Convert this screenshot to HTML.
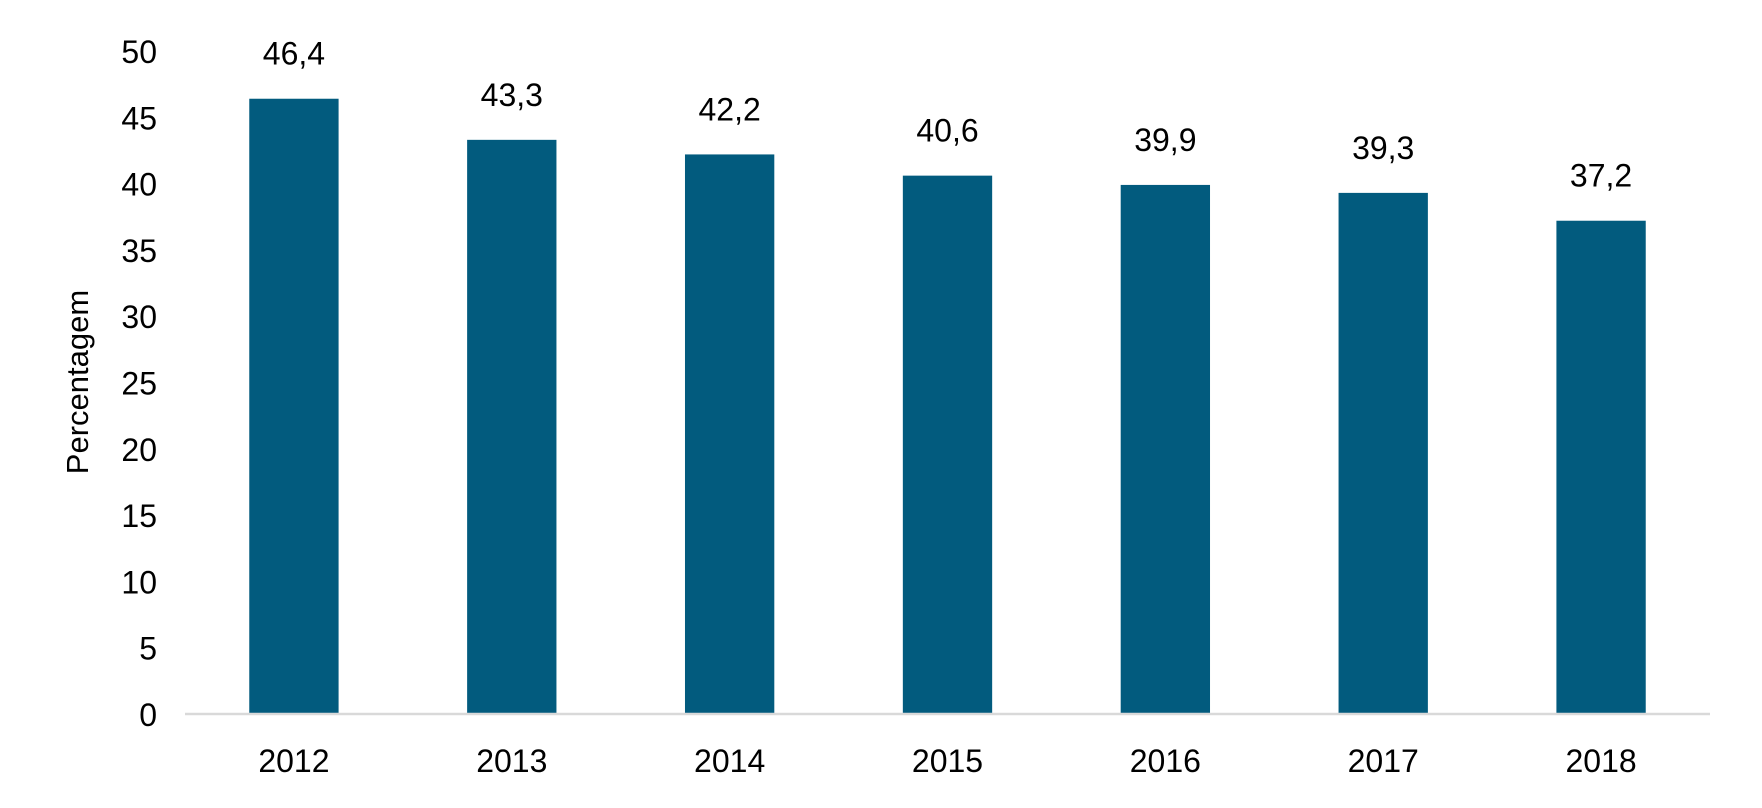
<!DOCTYPE html>
<html><head><meta charset="utf-8"><style>
html,body{margin:0;padding:0;background:#fff}
svg{display:block;font-family:"Liberation Sans",Arial,sans-serif}
</style></head><body>
<svg id="chart" width="1762" height="808" viewBox="0 0 1762 808">
<g id="yticks"></g>
<g id="bars"></g>
<g id="xticks"></g>
<line x1="185" y1="714" x2="1710" y2="714" stroke="#d9d9d9" stroke-width="2.5"/>
<text transform="translate(88,382) rotate(-90)" text-anchor="middle" font-size="31" fill="#000">Percentagem</text>
</svg>
<script>
const categories = ["2012","2013","2014","2015","2016","2017","2018"];
const values = [46.4,43.3,42.2,40.6,39.9,39.3,37.2];
const valueLabels = ["46,4","43,3","42,2","40,6","39,9","39,3","37,2"];
const yTicks = [0,5,10,15,20,25,30,35,40,45,50];
const NS="http://www.w3.org/2000/svg";
const x0=185,x1=1710,yBase=714,yTop=51,yMax=50;
const band=(x1-x0)/categories.length, barW=band*0.41;
function y(v){return yBase-(v/yMax)*(yBase-yTop);}
function xc(i){return x0+band*(i+0.5);}
function mk(tag,attrs,parent){const e=document.createElementNS(NS,tag);for(const k in attrs)e.setAttribute(k,attrs[k]);parent.appendChild(e);return e;}
const gy=document.getElementById('yticks'),gb=document.getElementById('bars'),gx=document.getElementById('xticks');
yTicks.forEach(t=>{
  const e=mk('text',{x:157,y:y(t)+12,'text-anchor':'end','font-size':'32',fill:'#000'},gy);
  
  
  e.textContent=t;
});
categories.forEach((c,i)=>{
  const r=mk('rect',{x:xc(i)-barW/2,y:y(values[i]),width:barW,height:yBase-y(values[i]),fill:'#025b7e'},gb);
  
  
  const l=mk('text',{x:xc(i),y:y(values[i])-34,'text-anchor':'middle','font-size':'32',fill:'#000'},gb);
  
  
  l.textContent=valueLabels[i];
  const t=mk('text',{x:xc(i),y:772,'text-anchor':'middle','font-size':'32',fill:'#000'},gx);
  
  
  t.textContent=c;
});
</script>
</body></html>
